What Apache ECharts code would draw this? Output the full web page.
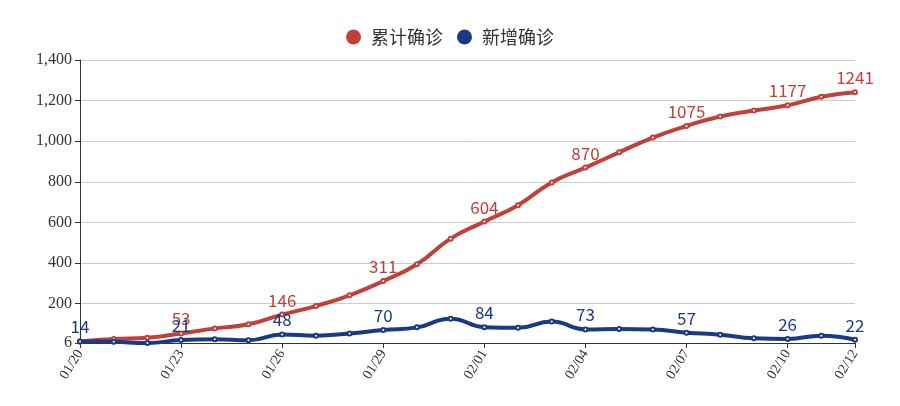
<!DOCTYPE html>
<html>
<head>
<meta charset="utf-8">
<script src="https://cdn.jsdelivr.net/npm/echarts@6/dist/echarts.min.js"></script>
<style>html,body{margin:0;padding:0;background:#fff}#c{width:900px;height:406px}</style>
</head>
<body>
<div id="c"></div>
<script>
var categories = ['01/20','01/21','01/22','01/23','01/24','01/25','01/26','01/27','01/28','01/29','01/30','01/31','02/01','02/02','02/03','02/04','02/05','02/06','02/07','02/08','02/09','02/10','02/11','02/12'];
var cumulative = [14,26,32,53,78,98,146,188,241,311,394,520,604,685,797,870,945,1018,1075,1122,1151,1177,1219,1241];
var newCases = [14,12,6,21,25,20,48,42,53,70,83,126,84,81,112,73,75,73,57,47,29,26,42,22];
var seriesNames = ['累计确诊','新增确诊'];
var colors = ['#c0413b','#1a3a86'];

function showIdx(i){ return i % 3 === 0 || i === categories.length - 1; }

var chart = echarts.init(document.getElementById('c'));
var font = '"Noto Sans CJK SC", "Noto Sans", sans-serif';
var serif = '"Liberation Serif", "DejaVu Serif", serif';
function mkSeries(name, data, color, hideFirst){
  return {
    name: name, type: 'line', smooth: true, data: data,
    symbol: 'emptyCircle', symbolSize: 4, showAllSymbol: true,
    lineStyle: {width: 4, color: color},
    itemStyle: {color: color, borderWidth: 1},
    label: {
      show: true, position: 'top', color: color, fontSize: 17, fontFamily: font, distance: 3,
      formatter: function(p){ if (hideFirst && p.dataIndex === 0) return ''; return showIdx(p.dataIndex) ? String(p.value) : ''; }
    }
  };
}
chart.setOption({
  animation: false,
  color: colors,
  legend: {
    top: 23, left: 'center', icon: 'circle', itemWidth: 15, itemHeight: 15, itemGap: 14,
    textStyle: {fontSize: 18, color: '#333', fontFamily: font, padding: [0, 0, 0, 5]},
    data: seriesNames
  },
  grid: {left: 80, right: 45, top: 60, bottom: 63, containLabel: false},
  xAxis: {
    type: 'category', data: categories, boundaryGap: false,
    axisLine: {lineStyle: {color: '#333'}},
    axisTick: {show: true, interval: function(i){ return showIdx(i); }, lineStyle: {color: '#333'}},
    axisLabel: {interval: function(i){ return showIdx(i); }, rotate: 58, color: '#333', fontSize: 14, fontFamily: serif}
  },
  yAxis: {
    type: 'value', min: 6, max: 1400, splitNumber: 7,
    axisLine: {show: true, lineStyle: {color: '#333'}},
    axisTick: {show: true, lineStyle: {color: '#333'}},
    axisLabel: {color: '#333', fontSize: 16, fontFamily: serif},
    splitLine: {lineStyle: {color: '#ccc'}}
  },
  series: [
    mkSeries(seriesNames[0], cumulative, colors[0], true),
    mkSeries(seriesNames[1], newCases, colors[1], false)
  ]
});
</script>
</body>
</html>
